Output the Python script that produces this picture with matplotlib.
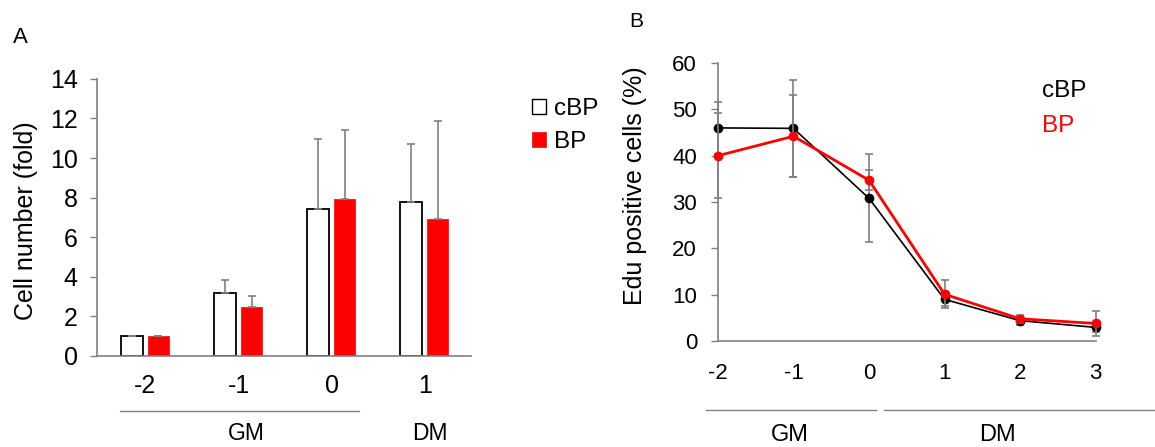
import matplotlib.pyplot as plt
import numpy as np
from matplotlib.lines import Line2D

plt.rcParams['font.family'] = ['Liberation Sans', 'DejaVu Sans']
plt.rcParams['axes.unicode_minus'] = False

# panel A: cell number (fold)
days_a = ['-2', '-1', '0', '1']
cbp_fold = [1.0, 3.2, 7.45, 7.8]
cbp_fold_err = [0.03, 0.65, 3.5, 2.9]
bp_fold = [1.0, 2.5, 7.95, 6.9]
bp_fold_err = [0.03, 0.55, 3.45, 4.95]

# panel B: Edu positive cells (%)
days_b = [-2, -1, 0, 1, 2, 3]
cbp_edu = [46.0, 45.9, 30.8, 9.0, 4.4, 2.95]
cbp_edu_err = [5.6, 10.4, 9.5, 1.5, 1.0, 1.0]
bp_edu = [40.0, 44.2, 34.7, 10.1, 4.8, 3.8]
bp_edu_err = [9.2, 8.8, 2.2, 3.0, 0.8, 2.7]

gray = '#808080'

fig = plt.figure(figsize=(11.55, 4.47), dpi=100)

# ---------- A ----------
ax1 = fig.add_axes([0.084, 0.2036, 0.324, 0.620])
x = np.arange(len(days_a))
w = 0.23
b1 = ax1.bar(x - 0.145, cbp_fold, w, color='white', edgecolor='black', linewidth=1.3,
             yerr=[np.zeros(4), cbp_fold_err], ecolor=gray,
             error_kw={'capsize': 3, 'elinewidth': 1.2, 'capthick': 1.2}, label='cBP')
b2 = ax1.bar(x + 0.14, bp_fold, w, color='#ff0000', edgecolor='#ff0000', linewidth=0.5,
             yerr=[np.zeros(4), bp_fold_err], ecolor=gray,
             error_kw={'capsize': 3, 'elinewidth': 1.2, 'capthick': 1.2}, label='BP')
ax1.set_xlim(-0.52, 3.5)
ax1.set_ylim(0, 14)
ax1.set_yticks(range(0, 15, 2))
ax1.set_xticks(x)
ax1.set_xticklabels(days_a)
ax1.tick_params(axis='y', length=5, width=1, color=gray, labelsize=18, pad=9)
ax1.tick_params(axis='x', length=0, labelsize=18, pad=13)
for s in ['top', 'right']:
    ax1.spines[s].set_visible(False)
for s in ['left', 'bottom']:
    ax1.spines[s].set_color(gray)
    ax1.spines[s].set_linewidth(1.2)
ax1.set_ylabel('Cell number (fold)', fontsize=18)
ax1.yaxis.set_label_coords(-0.158, 0.49)
leg = ax1.legend(handles=[b1, b2], loc='upper left', bbox_to_anchor=(1.163, 0.93), frameon=False,
                 fontsize=17.5, handlelength=0.55, handleheight=0.55, handletextpad=0.33,
                 labelspacing=0.45, borderaxespad=0, borderpad=0)
leg.get_patches()[0].set_linewidth(1)

tr1 = ax1.get_xaxis_transform()
ax1.plot([-0.27, 2.29], [-0.199, -0.199], color=gray, lw=1, transform=tr1, clip_on=False)
ax1.text(1.08, -0.278, 'GM', transform=tr1, ha='center', va='center', fontsize=16.5)
ax1.text(3.06, -0.278, 'DM', transform=tr1, ha='center', va='center', fontsize=16.5)
fig.text(0.0173, 0.917, 'A', fontsize=16, ha='center', va='center')

# ---------- B ----------
ax2 = fig.add_axes([0.6216, 0.237, 0.327, 0.622])
ax2.errorbar(days_b, cbp_edu, yerr=cbp_edu_err, color='black', lw=1.2, marker='o', ms=6,
             ecolor=gray, elinewidth=1.2, capsize=3, capthick=1.2, clip_on=False, zorder=3)
ax2.errorbar(days_b, bp_edu, yerr=bp_edu_err, color='#ff0000', lw=2, marker='o', ms=6,
             ecolor=gray, elinewidth=1.2, capsize=3, capthick=1.2, clip_on=False, zorder=4)
ax2.set_xlim(-2, 3)
ax2.set_ylim(0, 60)
ax2.set_xticks(days_b)
ax2.set_yticks(range(0, 61, 10))
ax2.tick_params(axis='y', length=5, width=1, color=gray, labelsize=16, pad=10)
ax2.tick_params(axis='x', length=0, labelsize=16, pad=16)
for s in ['top', 'right']:
    ax2.spines[s].set_visible(False)
for s in ['left', 'bottom']:
    ax2.spines[s].set_color(gray)
    ax2.spines[s].set_linewidth(1.2)
ax2.set_ylabel('Edu positive cells (%)', fontsize=18)
ax2.yaxis.set_label_coords(-0.188, 0.56)
h_c = Line2D([], [], color='black', linestyle='none', label='cBP')
h_b = Line2D([], [], color='#ff0000', linestyle='none', label='BP')
ax2.legend(handles=[h_c, h_b], loc='upper left', bbox_to_anchor=(0.857, 0.94), frameon=False,
           fontsize=17.5, handlelength=0, handletextpad=0, labelcolor='linecolor',
           labelspacing=0.55, borderaxespad=0, borderpad=0)

tr2 = ax2.get_xaxis_transform()
ax2.plot([-2.16, 0.095], [-0.248, -0.248], color=gray, lw=1, transform=tr2, clip_on=False)
ax2.plot([0.2, 3.8], [-0.248, -0.248], color=gray, lw=1, transform=tr2, clip_on=False)
ax2.text(-1.05, -0.338, 'GM', transform=tr2, ha='center', va='center', fontsize=17)
ax2.text(1.70, -0.338, 'DM', transform=tr2, ha='center', va='center', fontsize=17)
fig.text(0.551, 0.951, 'B', fontsize=15, ha='center', va='center')

fig.savefig('out.png', dpi=100)
